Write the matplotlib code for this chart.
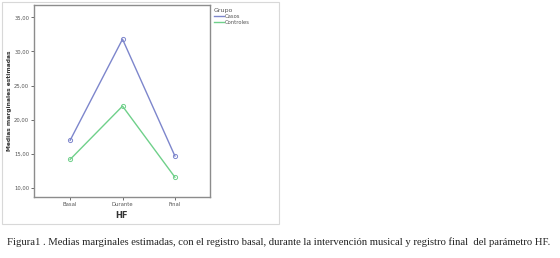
import matplotlib
matplotlib.use("Agg")
from matplotlib import pyplot as plt
from matplotlib.patches import Rectangle
from matplotlib.lines import Line2D

# data
momentos = ['Basal', 'Durante', 'Final']
casos = [17.0, 31.8, 14.7]
controles = [14.2, 22.0, 11.6]
yticks = [10, 15, 20, 25, 30, 35]
caption = ("Figura1 . Medias marginales estimadas, con el registro basal, durante la "
           "intervención musical y registro final  del parámetro HF.")

W, H = 560, 258
fig = plt.figure(figsize=(W / 100, H / 100), dpi=100)

# outer light box around the SPSS chart
fig.patches.append(Rectangle((2 / W, 1 - 224 / H), 277 / W, 222 / H,
                             transform=fig.transFigure, fill=False,
                             edgecolor='#d8d8d8', linewidth=0.8))

ax = fig.add_axes([34 / W, 1 - 197 / H, 176 / W, 192 / H])
x = range(len(momentos))
blue, green = '#7d86cc', '#6fd08a'
ax.plot(x, casos, color=blue, linewidth=1.0, marker='o', markersize=3,
        markerfacecolor='none', markeredgewidth=0.7)
ax.plot(x, controles, color=green, linewidth=1.0, marker='o', markersize=3,
        markerfacecolor='none', markeredgewidth=0.7)

ax.set_xlim(-0.69, 2.67)
ax.set_ylim(8.7, 36.8)
ax.set_xticks(list(x))
ax.set_xticklabels(momentos)
ax.set_yticks(yticks)
ax.set_yticklabels([f"{v},00" for v in yticks])
ax.tick_params(labelsize=3.8, length=2, width=0.6, colors='#555555', pad=1.5)
for s in ax.spines.values():
    s.set_color('#8c8c8c')
    s.set_linewidth(1.0)

ax.set_xlabel('HF', fontsize=6, fontweight='bold', color='#333333', labelpad=3)
ax.set_ylabel('Medias marginales estimadas', fontsize=4.3, fontweight='bold',
              color='#333333')
ax.yaxis.set_label_coords(-22 / 176, 0.5)

handles = [Line2D([], [], color=blue, linewidth=1.0),
           Line2D([], [], color=green, linewidth=1.0)]
leg = fig.legend(handles, ['Casos', 'Controles'], loc='upper left',
                 bbox_to_anchor=(212 / W, 1 - 6 / H), title='Grupo',
                 fontsize=3.8, title_fontsize=4.5, frameon=False, handlelength=1.8,
                 handletextpad=0.3, labelspacing=0.2, borderaxespad=0)
leg._legend_box.align = 'left'
for t in leg.get_texts():
    t.set_color('#555555')
leg.get_title().set_color('#555555')

fig.text(7 / W, 1 - 242 / H, caption, fontsize=7.7, family='Liberation Serif',
         va='center', ha='left', color='#222222')

fig.savefig('out.png', dpi=100)
